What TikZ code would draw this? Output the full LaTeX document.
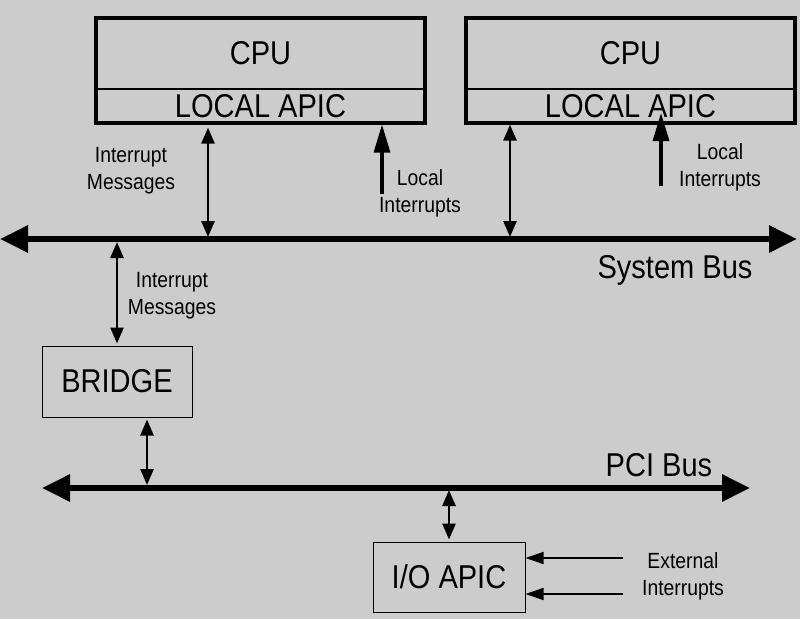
\documentclass[tikz,border=0pt]{standalone}
\usepackage{fontspec}
\setmainfont{Liberation Sans}[FakeStretch=0.88]
\usepackage{tikz}
\usepackage{xcolor}
\usetikzlibrary{arrows.meta, positioning, fit}

\definecolor{bg}{HTML}{CCCCCC}

\begin{document}
\begin{tikzpicture}[
    x=1pt, y=-1pt,
    font=\fontsize{33}{36}\selectfont,
    cpubox/.style   ={minimum width=329pt, minimum height=71pt, inner sep=0pt},
    apicbox/.style  ={minimum width=329pt, minimum height=33pt, inner sep=0pt},
    frame/.style    ={draw, line width=4pt, inner sep=0pt},
    plainbox/.style ={draw, line width=1pt, inner sep=0pt},
    bus/.style      ={line width=6pt, {Triangle[length=28pt, width=26pt]}-{Triangle[length=28pt, width=26pt]}},
    msg/.style      ={line width=2.7pt, {Triangle[length=16pt, width=13pt]}-{Triangle[length=16pt, width=13pt]}},
    localint/.style ={line width=3.3pt, -{Triangle[length=28pt, width=16pt]}},
    ext/.style      ={line width=1.5pt, -{Triangle[length=18pt, width=12pt]}},
    lbl/.style      ={font=\fontsize{22}{27}\selectfont, align=center}
]

% background and page size
\fill[bg] (0,0) rectangle (800,619);
\useasboundingbox (0,0) rectangle (800,619);

% Two processors, each with its local APIC underneath
\node[cpubox]  (cpu1)  at (260.5,53.5) {CPU};
\node[apicbox, below=0pt of cpu1] (apic1) {LOCAL APIC};
\node[frame, fit=(cpu1)(apic1)] (frame1) {};
\draw[line width=1.5pt] (apic1.north west) -- (apic1.north east);

\node[cpubox]  (cpu2)  at (630.5,53.5) {CPU};
\node[apicbox, below=0pt of cpu2] (apic2) {LOCAL APIC};
\node[frame, fit=(cpu2)(apic2)] (frame2) {};
\draw[line width=1.5pt] (apic2.north west) -- (apic2.north east);

% System bus
\coordinate (sbL) at (0,239);
\coordinate (sbR) at (797,239);
\draw[bus] (sbL) -- (sbR);
\node (sblbl) at (675,270) {System Bus};

% Bus <-> local APICs
\coordinate (sb1) at (208,237);
\coordinate (sb2) at (510,237);
\draw[msg, shorten >=5pt] (sb1) -- (sb1 |- apic1.south);
\draw[msg, shorten >=2pt] (sb2) -- (sb2 |- apic2.south);
\node[lbl] (msg1) at (131,171) {Interrupt\\Messages};

% Local interrupts
\coordinate (li1) at (382,194);
\draw[localint, shorten >=2pt] (li1) -- (li1 |- apic1.south);
\node[lbl] (loc1) at (420,193) {Local\\Interrupts};

\coordinate (li2) at (661,186);
\coordinate (li2top) at (661,113);
\draw[localint] (li2) -- (li2top);
\node[lbl] (loc2) at (720,167) {Local\\Interrupts};

% Bridge
\node[plainbox, minimum width=150pt, minimum height=71pt] (bridge) at (117,381.5) {BRIDGE};
\coordinate (sb0) at (117,242);
\draw[msg, shorten >=2pt] (sb0) -- (sb0 |- bridge.north);
\node[lbl] (msg0) at (172,296) {Interrupt\\Messages};

% PCI bus
\coordinate (pciL) at (42,488);
\coordinate (pciR) at (750,488);
\draw[bus] (pciL) -- (pciR);
\node (pcilbl) at (659,465) {PCI Bus};

\coordinate (pci0) at (147,485);
\draw[msg, shorten <=2pt] (pci0 |- bridge.south) -- (pci0);

% I/O APIC
\node[plainbox, minimum width=152pt, minimum height=70pt] (ioapic) at (449,577) {I/O APIC};
\coordinate (pci1) at (449,490);
\draw[msg, shorten >=2pt] (pci1) -- (pci1 |- ioapic.north);

% External interrupts
\coordinate (ext1) at (623,558);
\coordinate (ext2) at (623,594);
\draw[ext] (ext1) -- (ext1 -| ioapic.east);
\draw[ext] (ext2) -- (ext2 -| ioapic.east);
\node[lbl] (extlbl) at (683,576) {External\\Interrupts};

\end{tikzpicture}
\end{document}
